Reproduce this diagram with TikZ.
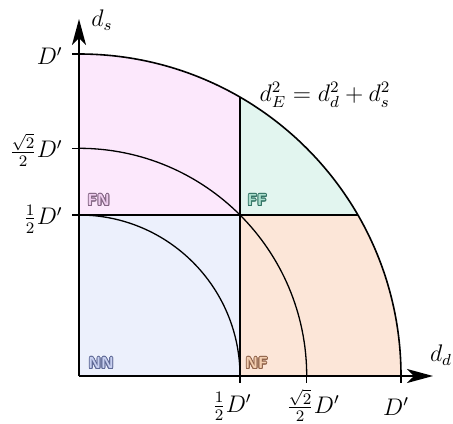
\documentclass[tikz,border=0pt]{standalone}
\usepackage{contour}
\usetikzlibrary{arrows.meta}
\contourlength{0.45pt}
\definecolor{fnfill}{RGB}{252,232,252}
\definecolor{nnfill}{RGB}{236,240,252}
\definecolor{fffill}{RGB}{226,245,239}
\definecolor{nffill}{RGB}{252,230,216}
\definecolor{fnline}{RGB}{130,100,130}
\definecolor{fntext}{RGB}{238,205,238}
\definecolor{nnline}{RGB}{95,105,150}
\definecolor{nntext}{RGB}{200,208,240}
\definecolor{ffline}{RGB}{50,115,100}
\definecolor{fftext}{RGB}{170,222,205}
\definecolor{nfline}{RGB}{145,100,75}
\definecolor{nftext}{RGB}{242,205,175}
\tikzset{
  axis/.style={line width=0.9pt,-{Stealth[length=13pt,width=7pt,inset=3.5pt]}},
  arcline/.style={line width=0.65pt},
  outerarc/.style={line width=0.8pt},
  tick/.style={line width=0.6pt},
  mathlabel/.style={font=\large},
  ticklabel/.style={inner sep=0pt,font=\large},
  region/.style={inner sep=0pt,anchor=south west,font=\sffamily\bfseries\footnotesize},
}
\newcommand{\reglabel}[3]{\contour{#1}{\textcolor{#2}{#3}}}
\begin{document}
\begin{tikzpicture}[x=0.5pt,y=0.5pt]
\useasboundingbox (0,0) rectangle (453,423);
\begin{scope}[shift={(79,47)}]
  \coordinate (O) at (0,0);
  % regions
  \fill[nnfill] (0,0) rectangle (161,161);
  \fill[fnfill] (0,161) -- (161,161) -- (60:322) arc[start angle=60,end angle=90,radius=322] -- cycle;
  \fill[fffill] (161,161) -- (30:322) arc[start angle=30,end angle=60,radius=322] -- cycle;
  \fill[nffill] (161,0) -- (322,0) arc[start angle=0,end angle=30,radius=322] -- (161,161) -- cycle;
  % inner arcs
  \draw[arcline] (161,0) arc[start angle=0,end angle=90,radius=161];
  \draw[arcline] (227.7,0) arc[start angle=0,end angle=90,radius=227.7];
  % dividing lines
  \draw[arcline] (161,0) -- (60:322);
  \draw[arcline] (0,161) -- (30:322);
  % outer arc
  \draw[outerarc] (322,0) arc[start angle=0,end angle=90,radius=322];
  % ticks
  \draw[tick] (161,0) -- (161,-7);
  \draw[tick] (227.7,0) -- (227.7,-7);
  \draw[tick] (322,0) -- (322,-7);
  \draw[tick] (0,161) -- (-7,161);
  \draw[tick] (0,227.7) -- (-7,227.7);
  \draw[tick] (0,322) -- (-7,322);
  % axes
  \coordinate (xend) at (354,0);
  \coordinate (yend) at (0,357);
  \draw[axis] (O) -- (xend);
  \draw[axis] (O) -- (yend);
  % axis labels
  \node[mathlabel] (ds) at (23,356) {$d_s$};
  \node[mathlabel] (dd) at (362,21) {$d_d$};
  \node[mathlabel] (eq) at (246,281) {$d_E^2 = d_d^2 + d_s^2$};
  % tick labels
  \node[ticklabel,anchor=north] (x1) at (153,-16) {$\frac{1}{2}D'$};
  \node[ticklabel,anchor=north] (x2) at (234,-13) {$\frac{\sqrt{2}}{2}D'$};
  \node[ticklabel,anchor=north] (x3) at (317,-21) {$D'$};
  \node[ticklabel,anchor=east] (y1) at (-16,157) {$\frac{1}{2}D'$};
  \node[ticklabel,anchor=east] (y2) at (-16,226) {$\frac{\sqrt{2}}{2}D'$};
  \node[ticklabel,anchor=east] (y3) at (-16,320) {$D'$};
  % region labels
  \node[region] (fn) at (8,169) {\reglabel{fnline}{fntext}{FN}};
  \node[region] (ff) at (168,169) {\reglabel{ffline}{fftext}{FF}};
  \node[region] (nn) at (9,6) {\reglabel{nnline}{nntext}{NN}};
  \node[region] (nf) at (166,6) {\reglabel{nfline}{nftext}{NF}};
\end{scope}
\end{tikzpicture}
\end{document}
